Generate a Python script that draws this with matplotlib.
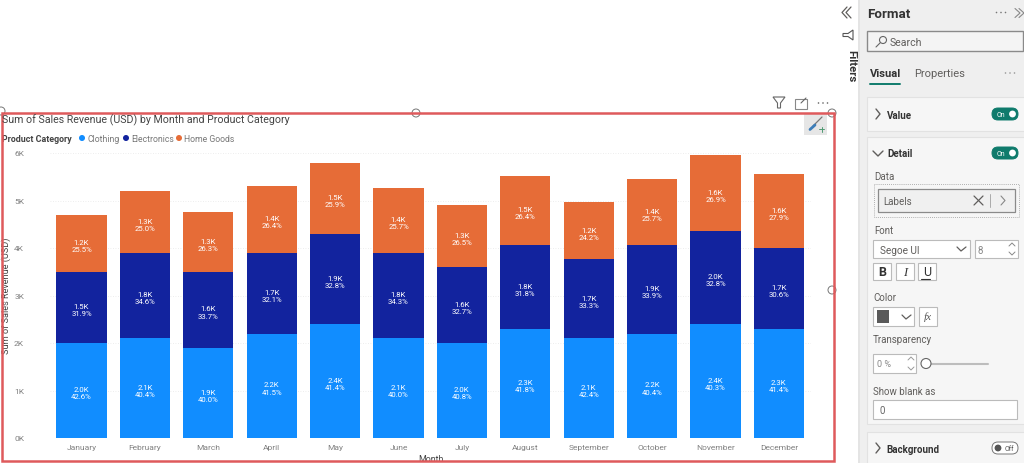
import matplotlib
matplotlib.use("Agg")
import matplotlib.pyplot as plt
from matplotlib.patches import Rectangle, FancyBboxPatch, Circle, Polygon
import numpy as np

months = ["January", "February", "March", "April", "May", "June", "July",
          "August", "September", "October", "November", "December"]
clothing = [2.0, 2.1, 1.9, 2.2, 2.4, 2.1, 2.0, 2.3, 2.1, 2.2, 2.4, 2.3]
electronics = [1.5, 1.8, 1.6, 1.7, 1.9, 1.8, 1.6, 1.76, 1.66, 1.86, 1.96, 1.7]
home_goods = [1.19, 1.3, 1.26, 1.4, 1.5, 1.36, 1.3, 1.46, 1.2, 1.4, 1.6, 1.56]
clothing_pct = [42.6, 40.4, 40.0, 41.5, 41.4, 40.0, 40.8, 41.8, 42.4, 40.4, 40.3, 41.4]
electronics_pct = [31.9, 34.6, 33.7, 32.1, 32.8, 34.3, 32.7, 31.8, 33.3, 33.9, 32.8, 30.6]
home_goods_pct = [25.5, 25.0, 26.3, 26.4, 25.9, 25.7, 26.5, 26.4, 24.2, 25.7, 26.9, 27.9]
y_ticks = [0, 1, 2, 3, 4, 5, 6]

BLUE = "#118DFF"
NAVY = "#12239E"
ORANGE = "#E66C37"
TEXT = "#605E5C"
GREEN = "#0F7B6C"
W, H = 1024, 464

plt.rcParams["font.family"] = ["Roboto", "DejaVu Sans"]
fig = plt.figure(figsize=(W / 100, H / 100), dpi=100)

# pixel layer for the report canvas and the side panes
ui = fig.add_axes([0, 0, 1, 1])
ui.set_xlim(0, W)
ui.set_ylim(H, 0)
ui.axis("off")


def line(xs, ys, color="#605E5C", lw=1.0):
    ui.plot(xs, ys, color=color, lw=lw, solid_capstyle="round", zorder=6)


def box(x, y, w, h, face="white", edge="#B8B8B8", lw=0.8, z=3):
    ui.add_patch(Rectangle((x, y), w, h, fc=face, ec=edge, lw=lw, zorder=z))


def dots(cx, cy, color="#777777"):
    for dx in (-4.5, 0, 4.5):
        ui.add_patch(Circle((cx + dx, cy), 0.8, fc=color, ec="none", zorder=6))


def toggle(x, y, on=True):
    face = GREEN if on else "white"
    ui.add_patch(FancyBboxPatch((x, y), 26, 12, boxstyle="round,pad=0,rounding_size=6",
                                fc=face, ec=GREEN if on else "#777777", lw=0.7, zorder=4))
    if on:
        ui.add_patch(Circle((x + 20.5, y + 6), 3.4, fc="white", ec="none", zorder=5))
        ui.text(x + 9, y + 6.2, "On", fontsize=5, color="white", ha="center", va="center", zorder=5)
    else:
        ui.add_patch(Circle((x + 6, y + 6), 3.4, fc="#555555", ec="none", zorder=5))
        ui.text(x + 17, y + 6.2, "Off", fontsize=5, color="#555555", ha="center", va="center", zorder=5)


# format pane
ui.add_patch(Rectangle((860, 0), 164, H, fc="#EFEFEF", ec="none", zorder=1))
ui.add_patch(Rectangle((858, 0), 2, H, fc="#E4E4E4", ec="none", zorder=1))
for top, bottom in [(98, 132), (138, 425), (433, 470)]:
    box(867, top, 170, bottom - top, face="#F6F6F6", edge="#E2E2E2", lw=0.8, z=2)

# filters strip
line([847, 842, 847], [8, 13.5, 19], lw=0.9)
line([851, 846, 851], [8, 13.5, 19], lw=0.9)
ui.text(851, 66, "Filters", fontsize=8.2, color="#333333", rotation=270, ha="center", va="center",
        fontweight="bold")
ui.add_patch(Polygon([[853, 31], [853, 41], [848, 37.5], [843, 37.5], [843, 34.5], [848, 34.5]],
                     fc="none", ec="#555555", lw=0.8, zorder=6))

ui.text(867, 14, "Format", fontsize=9.6, color="#333333", fontweight="bold", va="center")
dots(1001, 13.5)
line([1015, 1020, 1015], [9.5, 14, 18.5], lw=0.8, color="#888888")
line([1019, 1024, 1019], [9.5, 14, 18.5], lw=0.8, color="#888888")

box(867, 32, 156, 20, face="#F4F4F4", edge="#8A8A8A", lw=1.0)
ui.add_patch(Circle((883, 41), 3.5, fc="none", ec="#666666", lw=0.8, zorder=6))
line([880, 876], [44, 48], lw=0.8, color="#666666")
ui.text(890, 43, "Search", fontsize=7.6, color=TEXT, va="center", zorder=6)

ui.text(870, 74, "Visual", fontsize=8, color="#333333", fontweight="bold", va="center")
ui.text(914, 74, "Properties", fontsize=8, color=TEXT, va="center")
dots(1010, 74, color="#999999")
line([870, 900], [84.5, 84.5], color=GREEN, lw=1.4)

line([876, 880, 876], [110, 115, 120], lw=1.0)
ui.text(887, 116, "Value", fontsize=7, color="#333333", fontweight="bold", va="center", zorder=6)
toggle(992, 109)
line([873, 878, 883], [152, 157, 152], lw=1.0)
ui.text(887, 154, "Detail", fontsize=7, color="#333333", fontweight="bold", va="center", zorder=6)
toggle(992, 148)
ui.text(874, 177, "Data", fontsize=7, color=TEXT, va="center", zorder=6)

ui.add_patch(Rectangle((874, 185), 145, 33, fc="none", ec="#999999", lw=0.6, ls=(0, (1, 1.5)), zorder=4))
box(878, 190, 137, 23, face="#F0F0F0", edge="#8A8A8A", lw=0.9, z=5)
ui.text(883, 202, "Labels", fontsize=7, color=TEXT, va="center", zorder=6)
line([974, 983], [197, 206], lw=0.9)
line([974, 983], [206, 197], lw=0.9)
line([990, 990], [195, 208], lw=0.7, color="#AAAAAA")
line([1001, 1005, 1001], [197, 201.5, 206], lw=0.8, color="#888888")

ui.text(874, 231, "Font", fontsize=7, color=TEXT, va="center", zorder=6)
box(873, 241, 97, 18, edge="#BBBBBB")
ui.text(880, 251, "Segoe UI", fontsize=7.2, color=TEXT, va="center", zorder=6)
line([957, 961, 966], [248, 252, 248], lw=0.9)
box(975, 241, 43, 18, edge="#BBBBBB")
ui.text(978, 251, "8", fontsize=7, color="#888888", va="center", zorder=6)
line([1009, 1012, 1015], [247, 244, 247], lw=0.7, color="#888888")
line([1009, 1012, 1015], [253, 256, 253], lw=0.7, color="#888888")

for bx, label, style, weight in [(873, "B", "normal", "bold"), (896, "I", "italic", "normal"),
                                 (918, "U", "normal", "normal")]:
    box(bx, 264, 18, 17, edge="#BBBBBB")
    ui.text(bx + 9, 273, label, fontsize=9, color="#333333", ha="center", va="center",
            fontstyle=style, fontweight=weight, family="Liberation Serif" if label == "I" else None,
            zorder=6)
line([921, 930], [280, 280], lw=0.8, color="#333333")

ui.text(873, 298, "Color", fontsize=7, color=TEXT, va="center", zorder=6)
box(873, 308, 41, 19, edge="#BBBBBB")
ui.add_patch(Rectangle((877, 311), 12, 13, fc="#5A5A5A", ec="none", zorder=6))
line([902, 906, 911], [316, 320, 316], lw=0.9)
box(919, 308, 18, 19, edge="#BBBBBB")
ui.text(928, 317, "fx", fontsize=8, color="#555555", ha="center", va="center", fontstyle="italic",
        family="Liberation Serif", zorder=6)

ui.text(873, 340, "Transparency", fontsize=7, color=TEXT, va="center", zorder=6)
box(873, 355, 43, 19, edge="#BBBBBB")
ui.text(877, 365, "0 %", fontsize=6.5, color="#888888", va="center", zorder=6)
line([908, 911, 914], [361, 358, 361], lw=0.7, color="#999999")
line([908, 911, 914], [368, 371, 368], lw=0.7, color="#999999")
line([926, 988], [364.5, 364.5], lw=1.5, color="#BDBDBD")
ui.add_patch(Circle((926, 364.5), 5, fc="white", ec="#666666", lw=0.8, zorder=7))

ui.text(873, 392, "Show blank as", fontsize=7, color=TEXT, va="center", zorder=6)
box(873, 401, 144, 19, edge="#BBBBBB")
ui.text(879, 411, "0", fontsize=7, color="#666666", va="center", zorder=6)

line([876, 880, 876], [444, 449, 454], lw=1.0)
ui.text(886, 450, "Background", fontsize=7, color="#333333", fontweight="bold", va="center", zorder=6)
toggle(992, 443, on=False)

# visual header icons
ui.add_patch(Polygon([[773, 98], [785, 98], [780.5, 104], [780.5, 109], [777.5, 109], [777.5, 104]],
                     fc="none", ec="#666666", lw=0.8, zorder=6))
ui.add_patch(Rectangle((795, 100), 11.5, 9.5, fc="none", ec="#888888", lw=0.8, zorder=6))
line([801, 806], [104, 99], lw=0.8, color="#666666")
dots(823, 104, color="#666666")

# paintbrush button
ui.add_patch(Rectangle((804, 115), 23, 21, fc="#E6E6E6", ec="none", zorder=3))
line([813, 822], [127, 118], lw=0.9, color="#777777")
line([810, 815], [130.5, 126], lw=2.0, color="#3D7DB8")
line([819, 824], [130, 130], lw=0.7, color="#4F9A72")
line([821.5, 821.5], [127.5, 132.5], lw=0.7, color="#4F9A72")

# visual selection handles sit under the frame
for hx, hy in [(416, 114), (832, 114), (1, 112), (832, 291)]:
    ui.add_patch(Circle((hx, hy), 4, fc="white", ec="#777777", lw=0.7, zorder=7))
ui.add_patch(Rectangle((1.5, 114), 832.5, 348, fc="none", ec="#DF5A5C", lw=1.8, zorder=8))

# chart header text
ui.text(2, 120, "Sum of Sales Revenue (USD) by Month and Product Category", fontsize=7.7,
        color="#444444", va="center", zorder=9)
ui.text(2, 139.5, "Product Category", fontsize=6.4, color="#444444", fontweight="bold", va="center")
for dot_x, name, color in [(82, "Clothing", BLUE), (126, "Electronics", NAVY), (179, "Home Goods", ORANGE)]:
    ui.add_patch(Circle((dot_x, 139), 3, fc=color, ec="none", zorder=4))
    ui.text(dot_x + 5, 139.5, name, fontsize=6.2, color="#777777", va="center")
ui.text(6, 296, "Sum of Sales Revenue (USD)", fontsize=6.6, color="#444444", rotation=90,
        ha="center", va="center")
ui.text(431, 460, "Month", fontsize=6.4, color="#444444", ha="center", va="center", zorder=7)

# bars
ax = fig.add_axes([49.8 / W, (H - 439) / H, 760.8 / W, 285 / H])
ax.patch.set_alpha(0)
x = np.arange(len(months))
bar_w = 0.79
b1 = np.array(clothing)
b2 = b1 + np.array(electronics)
ax.bar(x, clothing, bar_w, color=BLUE, zorder=3)
ax.bar(x, electronics, bar_w, bottom=b1, color=NAVY, zorder=3)
ax.bar(x, home_goods, bar_w, bottom=b2, color=ORANGE, zorder=3)

for vals, pct, base in [(clothing, clothing_pct, 0 * b1), (electronics, electronics_pct, b1),
                        (home_goods, home_goods_pct, b2)]:
    for i in range(len(months)):
        # labels sit a little under the middle of the segment
        ax.text(i, base[i] + vals[i] / 2 - 0.05, f"{vals[i]:.1f}K\n{pct[i]:.1f}%", color="white",
                fontsize=5.6, ha="center", va="center", linespacing=1.25, zorder=4)

ax.set_xlim(-0.5, 11.5)
ax.set_ylim(0, 6)
ax.set_xticks(x)
ax.set_xticklabels(months)
ax.set_yticks(y_ticks)
ax.set_yticklabels([f"{t}K" for t in y_ticks])
ax.tick_params(length=0, labelsize=6, labelcolor="#808080")
ax.tick_params(axis="x", pad=4)
ax.tick_params(axis="y", pad=18.5)
ax.grid(axis="y", color="#E8E8E8", lw=0.6, ls=(0, (1, 2)), zorder=0)
for s in ax.spines.values():
    s.set_visible(False)

fig.savefig("out.png", dpi=100)
